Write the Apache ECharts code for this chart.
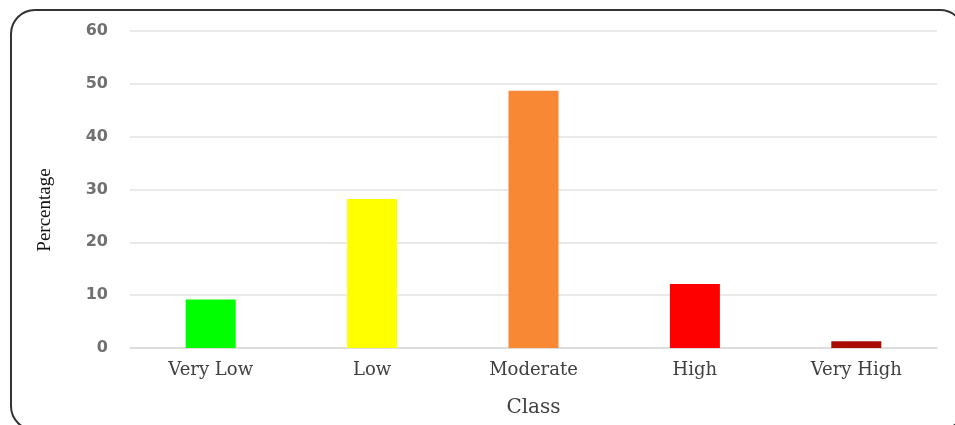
<!DOCTYPE html>
<html>
<head>
<meta charset="utf-8">
<script src="https://cdn.jsdelivr.net/npm/echarts@6/dist/echarts.min.js"></script>
<style>html,body{margin:0;padding:0;background:#fff;}#c{width:955px;height:425px;}</style>
</head>
<body>
<div id="c"></div>
<script>
var categories = ['Very Low', 'Low', 'Moderate', 'High', 'Very High'];
var values = [9.2, 28.2, 48.7, 12.1, 1.3];
var barColors = ['#00ff00', '#ffff00', '#f98834', '#ff0000', '#a80d00'];
var yTicks = [0, 10, 20, 30, 40, 50, 60];

var chart = echarts.init(document.getElementById('c'));
chart.setOption({
  animation: false,
  graphic: [{
    type: 'rect',
    shape: { x: 11, y: 10, width: 953, height: 420, r: 24 },
    style: { fill: 'none', stroke: '#333', lineWidth: 2 },
    silent: true
  }, {
    type: 'text',
    x: 45, y: 210,
    rotation: Math.PI / 2,
    style: {
      text: 'Percentage',
      fontFamily: 'Liberation Serif',
      fontSize: 19,
      fill: '#111',
      align: 'center',
      verticalAlign: 'middle'
    },
    silent: true
  }],
  grid: { left: 130, right: 18, top: 31, bottom: 77 },
  xAxis: {
    type: 'category',
    data: categories,
    name: 'Class',
    nameLocation: 'middle',
    nameGap: 50,
    nameTextStyle: { fontFamily: 'DejaVu Serif', fontSize: 20, color: '#404040' },
    axisLine: { lineStyle: { color: '#d9d9d9', width: 1.5 } },
    axisTick: { show: false },
    axisLabel: { fontFamily: 'DejaVu Serif', fontSize: 18, color: '#404040', margin: 13 }
  },
  yAxis: {
    type: 'value',
    min: yTicks[0],
    max: yTicks[yTicks.length - 1],
    interval: 10,
    axisLine: { show: false },
    axisTick: { show: false },
    splitLine: { lineStyle: { color: '#e3e3e3', width: 1.5 } },
    axisLabel: { fontFamily: 'DejaVu Sans', fontSize: 16, fontWeight: 'bold', color: '#707070', margin: 22 }
  },
  series: [{
    type: 'bar',
    barWidth: 50,
    data: values.map(function (v, i) { return { value: v, itemStyle: { color: barColors[i] } }; })
  }]
});
</script>
</body>
</html>
